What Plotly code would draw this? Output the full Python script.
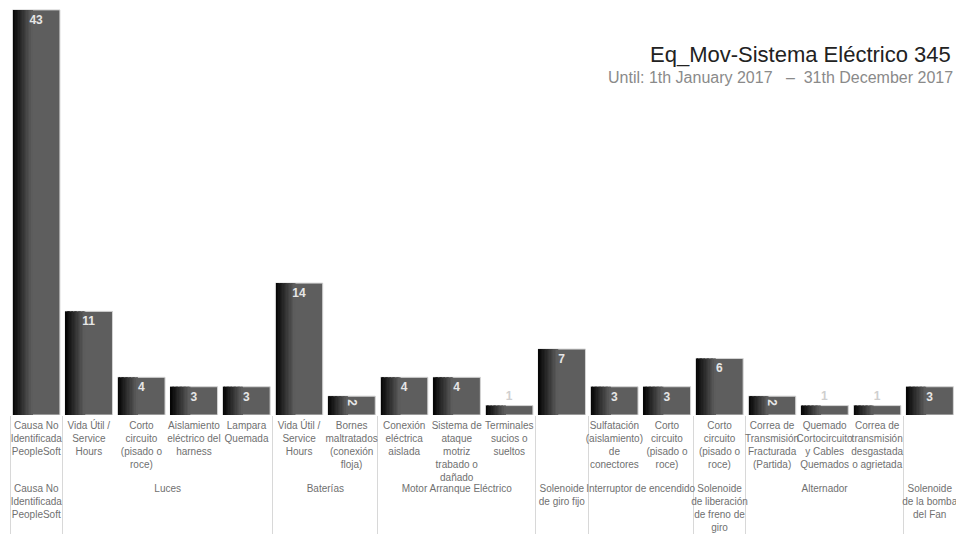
import plotly.graph_objects as go
import numpy as np

groups = [
    "Causa No<br>Identificada<br>PeopleSoft",
    "Luces", "Luces", "Luces", "Luces",
    "Baterías", "Baterías",
    "Motor Arranque Eléctrico", "Motor Arranque Eléctrico", "Motor Arranque Eléctrico",
    "Solenoide<br>de giro fijo",
    "Interruptor de encendido", "Interruptor de encendido",
    "Solenoide<br>de liberación<br>de freno de<br>giro",
    "Alternador", "Alternador", "Alternador",
    "Solenoide<br>de la bomba<br>del Fan",
]
causes = [
    "Causa No<br>Identificada<br>PeopleSoft",
    "Vida Útil /<br>Service<br>Hours",
    "Corto<br>circuito<br>(pisado o<br>roce)",
    "Aislamiento<br>eléctrico del<br>harness",
    "Lampara<br>Quemada",
    "Vida Útil /<br>Service<br>Hours\u200b",
    "Bornes<br>maltratados<br>(conexión<br>floja)",
    "Conexión<br>eléctrica<br>aislada",
    "Sistema de<br>ataque<br>motriz<br>trabado o<br>dañado",
    "Terminales<br>sucios o<br>sueltos",
    " ",
    "Sulfatación<br>(aislamiento)<br>de<br>conectores",
    "Corto<br>circuito<br>(pisado o<br>roce)\u200b",
    "Corto<br>circuito<br>(pisado o<br>roce)\u200b\u200b",
    "Correa de<br>Transmisión<br>Fracturada<br>(Partida)",
    "Quemado<br>Cortocircuito<br>y Cables<br>Quemados",
    "Correa de<br>transmisión<br>desgastada<br>o agrietada",
    "  ",
]
counts = [43, 11, 4, 3, 3, 14, 2, 4, 4, 1, 7, 3, 3, 6, 2, 1, 1, 3]

FONT = "Liberation Sans Narrow, Arial Narrow, Liberation Sans, Arial, sans-serif"
x = [groups, causes]

fig = go.Figure()

BAR_W = 0.9
fig.add_trace(go.Bar(
    x=x, y=counts, width=BAR_W,
    marker=dict(color="#5e5e5e", line=dict(color="#d4d4d4", width=1)),
    hoverinfo="skip", showlegend=False,
))
n_str = 14
sw = 0.026
shades = np.linspace(6, 92, n_str).astype(int)
for i, g in enumerate(shades):
    fig.add_trace(go.Bar(
        x=x, y=counts, width=sw + 0.006,
        offset=-BAR_W / 2 + 0.012 + i * sw,
        marker=dict(color=f"rgb({g},{g},{g})", line=dict(width=0)),
        hoverinfo="skip", showlegend=False,
    ))
positions = ["outside" if v < 2 else "inside" for v in counts]
fig.add_trace(go.Bar(
    x=x, y=counts, width=BAR_W,
    marker=dict(color="rgba(0,0,0,0)", line=dict(width=0)),
    text=[str(v) for v in counts],
    textposition=positions,
    insidetextanchor="end",
    constraintext="none",
    insidetextfont=dict(color="#e6e6e6", size=12, family="Liberation Sans, Arial", weight="bold"),
    outsidetextfont=dict(color="#cfcfcf", size=12, family="Liberation Sans, Arial", weight="bold"),
    cliponaxis=False,
    hoverinfo="skip",
    showlegend=False,
))

fig.update_layout(
    width=956, height=557,
    barmode="overlay",
    plot_bgcolor="white", paper_bgcolor="white",
    margin=dict(l=10, r=0, t=8, b=142, autoexpand=False),
    uniformtext=dict(minsize=12, mode="show"),
    font=dict(family=FONT, color="#707070", size=10),
    xaxis=dict(
        type="multicategory",
        tickangle=0,
        automargin=False,
        ticklabelstandoff=3,
        tickfont=dict(family=FONT, size=10, color="#707070"),
        showgrid=False, showline=False, ticks="",
        dividercolor="#d8d8d8", dividerwidth=1,
    ),
    yaxis=dict(visible=False, range=[0, 43.2], fixedrange=True),
    annotations=[
        dict(text="Eq_Mov-Sistema Eléctrico 345", xref="paper", yref="paper",
             x=1.0, y=0.885, xanchor="right", yanchor="middle", showarrow=False,
             xshift=-3,
             font=dict(family=FONT, size=22, color="#222222")),
        dict(text="Until: 1th January 2017   –  31th December 2017", xref="paper", yref="paper",
             x=1.0, y=0.83, xanchor="right", yanchor="middle", showarrow=False,
             xshift=-1,
             font=dict(family=FONT, size=16, color="#8a8a8a")),
    ],
)

fig.write_html(
    "out.html",
    config={"displayModeBar": False},
    post_script="document.body.style.margin='0';document.body.style.overflow='hidden';",
)
